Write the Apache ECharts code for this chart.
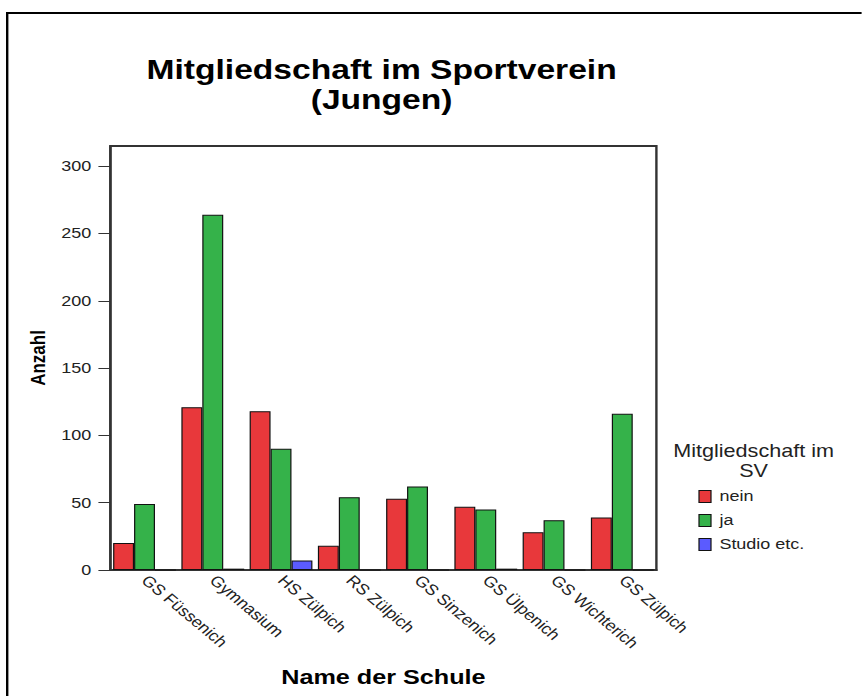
<!DOCTYPE html>
<html>
<head>
<meta charset="utf-8">
<script src="https://cdn.jsdelivr.net/npm/echarts@6/dist/echarts.min.js"></script>
<style>
  html, body { margin: 0; padding: 0; background: #fff; overflow: hidden; }
  /* the source picture is stretched sideways by about 1.2, so draw narrower and widen */
  #chart { width: 718px; height: 696px; transform: scaleX(1.2); transform-origin: 0 0; }
</style>
</head>
<body>
<div id="chart"></div>
<script>
const schools = ["GS Füssenich", "Gymnasium", "HS Zülpich", "RS Zülpich", "GS Sinzenich", "GS Ülpenich", "GS Wichterich", "GS Zülpich"];
const nein = [20, 121, 118, 18, 53, 47, 28, 39];
const ja = [49, 264, 90, 54, 62, 45, 37, 116];
const studio = [0, 1, 7, 0, 0, 1, 0, 0];
const yTicks = [0, 50, 100, 150, 200, 250, 300];

const font = "Liberation Sans, Arial, sans-serif";
const chart = echarts.init(document.getElementById("chart"), null, { renderer: "svg" });

function barSeries(name, data, color) {
  return {
    name: name,
    type: "bar",
    data: data,
    barGap: "0%",
    barCategoryGap: "8%",
    itemStyle: { color: color, borderColor: "#111", borderWidth: 1 }
  };
}

chart.setOption({
  animation: false,
  title: {
    text: "Mitgliedschaft im Sportverein\n(Jungen)",
    left: 313,
    top: 49,
    textAlign: "center",
    textStyle: { fontFamily: font, fontWeight: "bold", fontSize: 28, lineHeight: 30, color: "#000" }
  },
  graphic: [
    {
      type: "rect",
      shape: { x: 6, y: 13, width: 900, height: 720 },
      style: { fill: "none", stroke: "#000", lineWidth: 2 }
    },
    {
      type: "text",
      x: 628,
      y: 441,
      style: {
        text: "Mitgliedschaft im\nSV",
        align: "center",
        verticalAlign: "top",
        fill: "#222",
        font: "18px " + font,
        lineHeight: 20
      }
    }
  ],
  legend: {
    orient: "vertical",
    left: 577,
    top: 484,
    itemWidth: 10,
    itemHeight: 12,
    itemGap: 9,
    icon: "rect",
    itemStyle: { borderColor: "#111", borderWidth: 1 },
    textStyle: { fontFamily: font, fontSize: 15, color: "#222", padding: [0, 0, 0, 2] },
    data: ["nein", "ja", "Studio etc."]
  },
  grid: {
    left: 92, right: 171, top: 146, bottom: 126,
    outerBoundsMode: "none",
    show: true, borderColor: "#333", borderWidth: 2, backgroundColor: "transparent"
  },
  xAxis: {
    type: "category",
    data: schools,
    name: "Name der Schule",
    nameLocation: "middle",
    nameGap: 96,
    nameTextStyle: { fontFamily: font, fontWeight: "bold", fontSize: 21, color: "#000" },
    axisLine: { lineStyle: { color: "#333", width: 2 } },
    axisTick: { alignWithLabel: true, length: 7, lineStyle: { color: "#333" } },
    axisLabel: { rotate: -45, fontFamily: font, fontSize: 15, color: "#222", margin: 8, interval: 0 }
  },
  yAxis: {
    type: "value",
    min: 0,
    max: 315,
    interval: 50,
    name: "Anzahl",
    nameLocation: "middle",
    nameGap: 49,
    nameTextStyle: { fontFamily: font, fontWeight: "bold", fontSize: 17, color: "#000" },
    axisLine: { show: true, lineStyle: { color: "#333", width: 2 } },
    axisTick: { show: true, length: 10, customValues: yTicks, lineStyle: { color: "#333" } },
    splitLine: { show: false },
    axisLabel: { customValues: yTicks, fontFamily: font, fontSize: 15, color: "#222", margin: 16 }
  },
  series: [
    barSeries("nein", nein, "#e8383b"),
    barSeries("ja", ja, "#35b24a"),
    barSeries("Studio etc.", studio, "#5b5bff")
  ]
});
</script>
</body>
</html>
